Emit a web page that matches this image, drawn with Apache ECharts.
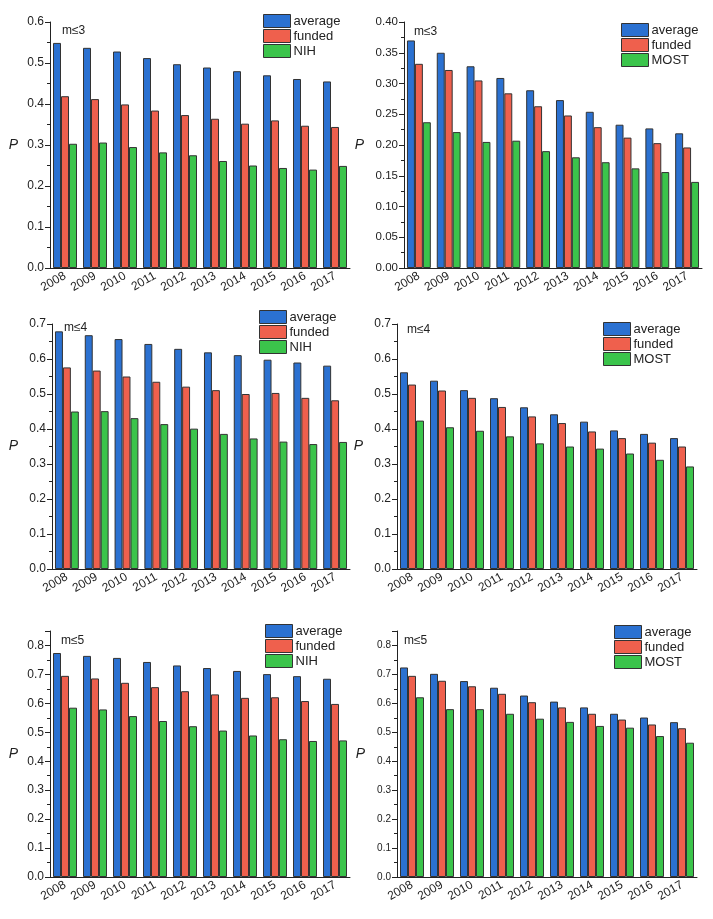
<!DOCTYPE html>
<html>
<head>
<meta charset="utf-8">
<script src="https://cdn.jsdelivr.net/npm/echarts@6/dist/echarts.min.js"></script>
<style>
  html, body { margin: 0; padding: 0; background: #fff; }
  #main { width: 713px; height: 919px; }
</style>
</head>
<body>
<div id="main"></div>
<script>
// years on the x axis
var years = ['2008', '2009', '2010', '2011', '2012', '2013', '2014', '2015', '2016', '2017'];

// m<=3, NIH
var nih3Average = [0.549, 0.537, 0.528, 0.512, 0.497, 0.489, 0.480, 0.470, 0.461, 0.455];
var nih3Funded  = [0.419, 0.412, 0.399, 0.384, 0.373, 0.364, 0.352, 0.360, 0.347, 0.344];
var nih3Agency  = [0.303, 0.306, 0.295, 0.282, 0.275, 0.261, 0.250, 0.244, 0.240, 0.249];
// m<=3, MOST
var most3Average = [0.370, 0.350, 0.328, 0.309, 0.289, 0.273, 0.254, 0.233, 0.227, 0.219];
var most3Funded  = [0.332, 0.322, 0.305, 0.284, 0.263, 0.248, 0.229, 0.212, 0.203, 0.196];
var most3Agency  = [0.237, 0.221, 0.205, 0.207, 0.190, 0.180, 0.172, 0.162, 0.156, 0.140];
// m<=4, NIH
var nih4Average = [0.679, 0.668, 0.657, 0.643, 0.629, 0.619, 0.611, 0.598, 0.590, 0.581];
var nih4Funded  = [0.576, 0.567, 0.550, 0.535, 0.521, 0.511, 0.500, 0.503, 0.489, 0.482];
var nih4Agency  = [0.450, 0.451, 0.431, 0.414, 0.401, 0.386, 0.373, 0.364, 0.357, 0.363];
// m<=4, MOST
var most4Average = [0.562, 0.538, 0.511, 0.488, 0.462, 0.442, 0.421, 0.396, 0.386, 0.374];
var most4Funded  = [0.527, 0.510, 0.489, 0.463, 0.436, 0.417, 0.393, 0.374, 0.361, 0.350];
var most4Agency  = [0.424, 0.405, 0.395, 0.379, 0.359, 0.350, 0.344, 0.330, 0.312, 0.293];
// m<=5, NIH
var nih5Average = [0.774, 0.764, 0.757, 0.743, 0.731, 0.722, 0.712, 0.701, 0.694, 0.685];
var nih5Funded  = [0.695, 0.686, 0.671, 0.656, 0.642, 0.631, 0.619, 0.621, 0.608, 0.598];
var nih5Agency  = [0.585, 0.579, 0.556, 0.539, 0.521, 0.506, 0.489, 0.476, 0.470, 0.472];
// m<=5, MOST
var most5Average = [0.724, 0.702, 0.677, 0.654, 0.627, 0.606, 0.586, 0.564, 0.551, 0.535];
var most5Funded  = [0.695, 0.678, 0.659, 0.633, 0.604, 0.586, 0.564, 0.544, 0.527, 0.514];
var most5Agency  = [0.621, 0.580, 0.580, 0.564, 0.547, 0.536, 0.522, 0.516, 0.487, 0.464];

var font = 'Liberation Sans, Arial, sans-serif';
var colors = ['#2b71d1', '#ef604d', '#3bc44b'];

// one entry per panel: layout + axis range
var panels = [
  { left: 50,  top: 22,  width: 300, height: 246, max: 0.6,  interval: 0.1,  dec: 1, fs: 12,   tag: 'm≤3', agency: 'NIH',  data: [nih3Average, nih3Funded, nih3Agency],    lg: [263, 14],  tagPos: [62, 25],  gap: 32 },
  { left: 404, top: 22,  width: 298, height: 246, max: 0.4,  interval: 0.05, dec: 2, fs: 11.5, tag: 'm≤3', agency: 'MOST', data: [most3Average, most3Funded, most3Agency], lg: [621, 23],  tagPos: [414, 26], gap: 40 },
  { left: 52,  top: 324, width: 298, height: 245, max: 0.7,  interval: 0.1,  dec: 1, fs: 12,   tag: 'm≤4', agency: 'NIH',  data: [nih4Average, nih4Funded, nih4Agency],    lg: [259, 310], tagPos: [64, 322], gap: 34 },
  { left: 397, top: 324, width: 300, height: 245, max: 0.7,  interval: 0.1,  dec: 1, fs: 12,   tag: 'm≤4', agency: 'MOST', data: [most4Average, most4Funded, most4Agency], lg: [603, 322], tagPos: [407, 324], gap: 34 },
  { left: 50,  top: 631, width: 300, height: 246, max: 0.85, interval: 0.1,  dec: 1, fs: 12,   tag: 'm≤5', agency: 'NIH',  data: [nih5Average, nih5Funded, nih5Agency],    lg: [265, 624], tagPos: [61, 635], gap: 32 },
  { left: 397, top: 631, width: 300, height: 246, max: 0.85, interval: 0.1,  dec: 1, fs: 10,   tag: 'm≤5', agency: 'MOST', data: [most5Average, most5Funded, most5Agency], lg: [614, 625], tagPos: [404, 635], gap: 32 }
];

var grid = [], xAxis = [], yAxis = [], series = [], legend = [], graphic = [];

panels.forEach(function (p, i) {
  grid.push({ left: p.left, top: p.top, width: p.width, height: p.height });

  // labelled axis, ticks on the category centres
  xAxis.push({
    type: 'category', gridIndex: i, data: years,
    axisLine: { lineStyle: { color: '#222', width: 1 } },
    axisTick: { alignWithLabel: true, interval: 0, length: 5, lineStyle: { color: '#222' } },
    axisLabel: { rotate: 30, interval: 0, fontSize: 12, fontFamily: font, color: '#222', margin: 7, hideOverlap: false }
  });
  // helper axis, only the short ticks between categories
  xAxis.push({
    type: 'category', gridIndex: i, data: years, position: 'bottom',
    axisLine: { show: false },
    axisTick: { interval: 0, length: 3, lineStyle: { color: '#222' } },
    axisLabel: { show: false }
  });

  yAxis.push({
    type: 'value', gridIndex: i, min: 0, max: p.max, interval: p.interval,
    name: 'P', nameLocation: 'middle', nameRotate: 0, nameGap: p.gap,
    nameTextStyle: { fontStyle: 'italic', fontSize: 14, fontFamily: font, color: '#222' },
    axisLine: { show: true, lineStyle: { color: '#222', width: 1 } },
    axisTick: { show: true, length: 5, lineStyle: { color: '#222' } },
    minorTick: { show: true, splitNumber: 2, length: 3, lineStyle: { color: '#222' } },
    splitLine: { show: false },
    axisLabel: {
      fontSize: p.fs, fontFamily: font, color: '#222', margin: 6, showMaxLabel: p.max !== 0.85,
      formatter: function (v) { return v.toFixed(p.dec); }
    }
  });

  var names = ['average', 'funded', p.agency];
  names.forEach(function (n, k) {
    series.push({
      name: n, type: 'bar', xAxisIndex: i * 2, yAxisIndex: i,
      data: p.data[k],
      barGap: '0%', barCategoryGap: '20%',
      itemStyle: { color: colors[k], borderColor: '#333', borderWidth: 1 }
    });
  });

  legend.push({
    data: names, orient: 'vertical', left: p.lg[0], top: p.lg[1],
    itemWidth: 27, itemHeight: 13, itemGap: 1, icon: 'rect',
    itemStyle: { borderColor: '#333', borderWidth: 1 },
    textStyle: { fontSize: 13, fontFamily: font, color: '#222', padding: [0, 0, 0, -2] },
    padding: 0, selectedMode: false
  });

  graphic.push({
    type: 'text', left: p.tagPos[0], top: p.tagPos[1],
    style: { text: p.tag, font: '12px ' + font, fill: '#222' }
  });
});

var chart = echarts.init(document.getElementById('main'), null, { renderer: 'canvas' });
chart.setOption({
  animation: false,
  backgroundColor: '#fff',
  grid: grid,
  xAxis: xAxis,
  yAxis: yAxis,
  legend: legend,
  graphic: graphic,
  series: series
});
</script>
</body>
</html>
